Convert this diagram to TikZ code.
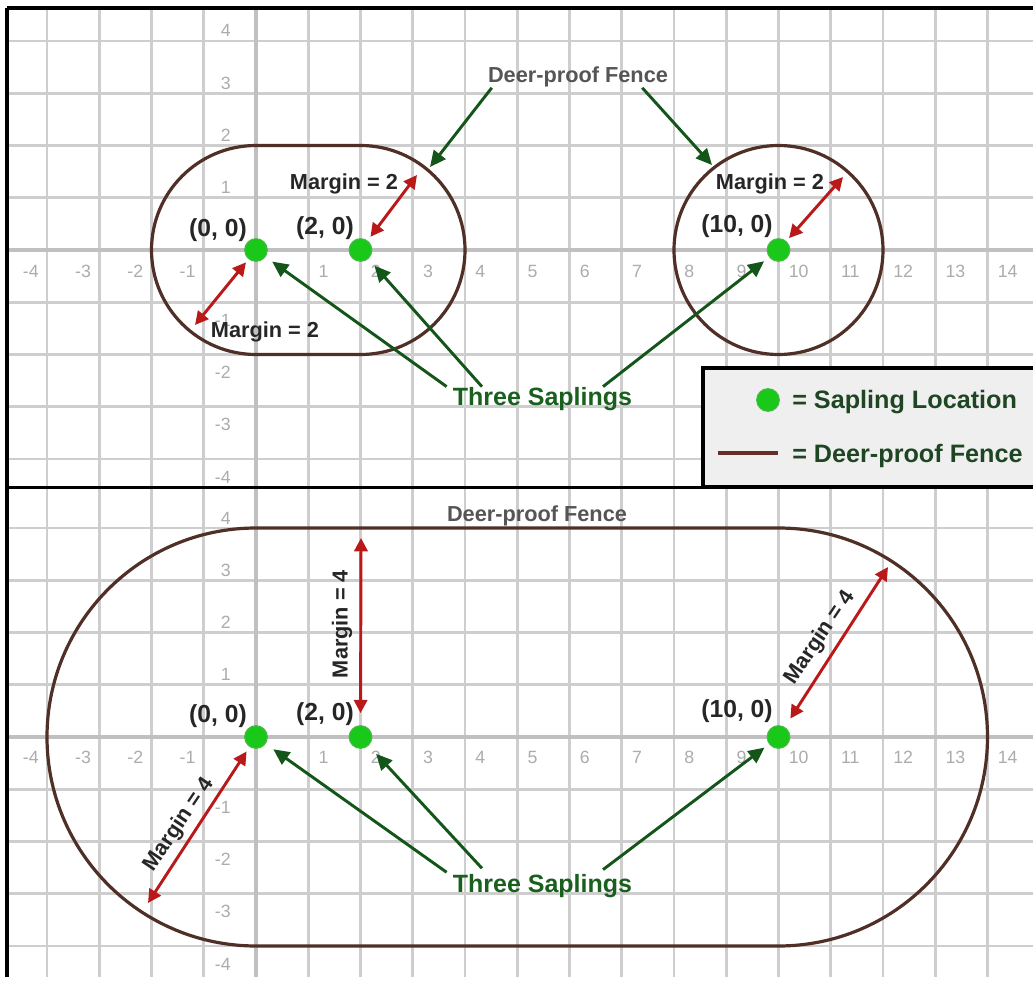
\documentclass[tikz,border=0pt]{standalone}
\usepackage{fontspec}
\setmainfont{Liberation Sans}
\usetikzlibrary{arrows.meta}
\definecolor{gridc}{RGB}{206,206,206}
\definecolor{axisc}{RGB}{192,192,192}
\definecolor{glabel}{RGB}{172,172,172}
\definecolor{fencec}{RGB}{80,48,38}
\definecolor{legfence}{RGB}{105,45,40}
\definecolor{sapfill}{RGB}{25,200,25}
\definecolor{sapedge}{RGB}{70,185,70}
\definecolor{garrow}{RGB}{20,85,25}
\definecolor{rarrow}{RGB}{185,25,25}
\definecolor{tgreen}{RGB}{25,95,30}
\definecolor{lgreen}{RGB}{30,70,35}
\definecolor{deergray}{RGB}{85,85,85}
\definecolor{legbg}{RGB}{239,239,239}
\tikzset{
 gridln/.style={draw=gridc, line width=2pt},
 axisln/.style={draw=axisc, line width=3.5pt},
 glab/.style={text=glabel, font=\fontsize{13.3}{14}\selectfont, inner sep=0pt},
 fence/.style={draw=fencec, line width=2.4pt},
 sapling/.style={circle, fill=sapfill, draw=sapedge, line width=0.8pt, minimum size=17pt, inner sep=0pt},
 coordlab/.style={font=\bfseries\fontsize{18.5}{20}\selectfont, text=black!85, inner sep=0pt, anchor=base},
 marginlab/.style={font=\bfseries\fontsize{16.3}{18}\selectfont, text=black!85, inner sep=0pt},
 deerlab/.style={font=\bfseries\fontsize{16.3}{18}\selectfont, text=deergray, inner sep=0pt, anchor=base},
 threelab/.style={font=\bfseries\fontsize{18.75}{20}\selectfont, text=tgreen, inner sep=0pt, anchor=base},
 leglab/.style={font=\bfseries\fontsize{18.9}{20}\selectfont, text=lgreen, inner sep=0pt, anchor=base west},
 garr/.style={draw=garrow, line width=2.2pt, -{Triangle[length=12pt,width=11pt]}},
 rarr/.style={draw=rarrow, line width=2.2pt, {Triangle[length=10pt,width=10pt]}-{Triangle[length=10pt,width=10pt]}},
 border/.style={draw=black, line width=2.4pt},
}
\begin{document}
\begin{tikzpicture}[x=0.75pt, y=-0.75pt]
\useasboundingbox (0,0) rectangle (1033,981);
\fill[white] (0,0) rectangle (1033,981);
\clip (0,0) rectangle (1033,981);

% ---------- top panel grid ----------
\begin{scope}
 \clip (7,8) rectangle (1045,487);
 \foreach \k in {-4,...,14} { \draw[gridln] ({256+52.25*\k},0) -- ({256+52.25*\k},500); }
 \foreach \k in {-4,...,4} { \draw[gridln] (0,{250-52.25*\k}) -- (1045,{250-52.25*\k}); }
 \draw[axisln] (256,0) -- (256,500);
 \draw[axisln] (0,250) -- (1045,250);
\end{scope}
\foreach \k in {1,...,14} { \node[glab, anchor=base west] (tx\k) at ({256+52.25*\k+10},277) {\k}; }
\foreach \k in {1,...,4} { \node[glab, anchor=base east] (txm\k) at ({256-52.25*\k-8},277) {-\k}; }
\foreach \k in {1,...,4} { \node[glab, anchor=base east] (ty\k) at (231,{250-52.25*\k-4}) {\k}; }
\foreach \k in {1,...,4} { \node[glab, anchor=base east] (tym\k) at (231,{250+52.25*\k+24}) {-\k}; }

% ---------- bottom panel grid ----------
\begin{scope}
 \clip (7,488) rectangle (1045,976);
 \foreach \k in {-4,...,14} { \draw[gridln] ({256+52.25*\k},480) -- ({256+52.25*\k},990); }
 \foreach \k in {-4,...,4} { \draw[gridln] (0,{737-52.25*\k}) -- (1045,{737-52.25*\k}); }
 \draw[axisln] (256,480) -- (256,990);
 \draw[axisln] (0,737) -- (1045,737);
\end{scope}
\foreach \k in {1,...,14} { \node[glab, anchor=base west] (bx\k) at ({256+52.25*\k+10},763) {\k}; }
\foreach \k in {1,...,4} { \node[glab, anchor=base east] (bxm\k) at ({256-52.25*\k-8},763) {-\k}; }
\foreach \k in {1,...,4} { \node[glab, anchor=base east] (by\k) at (231,{737-52.25*\k-4}) {\k}; }
\foreach \k in {1,...,4} { \node[glab, anchor=base east] (bym\k) at (231,{737+52.25*\k+24}) {-\k}; }

% ---------- fences and saplings, top ----------
\begin{scope}[shift={(256,250)}, x=39.1875pt, y=39.1875pt]
 \draw[fence] (0,2) -- (2,2) arc[start angle=90, end angle=-90, radius=2] -- (0,-2) arc[start angle=270, end angle=90, radius=2] -- cycle;
 \draw[fence] (10,0) circle[radius=2];
 \node[sapling] (s1) at (0,0) {};
 \node[sapling] (s2) at (2,0) {};
 \node[sapling] (s3) at (10,0) {};
\end{scope}

% ---------- fences and saplings, bottom ----------
\begin{scope}[shift={(256,737)}, x=39.1875pt, y=39.1875pt]
 \draw[fence] (0,4) -- (10,4) arc[start angle=90, end angle=-90, radius=4] -- (0,-4) arc[start angle=270, end angle=90, radius=4] -- cycle;
 \node[sapling] (b1) at (0,0) {};
 \node[sapling] (b2) at (2,0) {};
 \node[sapling] (b3) at (10,0) {};
\end{scope}

% ---------- legend ----------
\draw[draw=black, line width=2.4pt, fill=legbg] (703,368) rectangle (1045,487);
\node[sapling] (legdot) at (768,400) {};
\draw[draw=legfence, line width=2.8pt] (718,453) -- (778,453);
\node[leglab] (legA) at (792,408) {= Sapling Location};
\node[leglab] (legB) at (792,462) {= Deer-proof Fence};

% ---------- borders ----------
\draw[border] (7,8) -- (1045,8);
\draw[border] (7,8) -- (7,977);
\draw[border] (7,487.5) -- (1045,487.5);

% ---------- coordinates for free ends ----------
\coordinate (fA) at (430,167);
\coordinate (fB) at (712,165);
\coordinate (mA) at (195,325);
\coordinate (mB) at (417,175);
\coordinate (mC) at (843,177);
\coordinate (nA) at (148,903);
\coordinate (nB) at (361,538);
\coordinate (nC) at (888,567);

% ---------- red margin arrows ----------
\draw[rarr, shorten <=3pt] (s1) -- (mA);
\draw[rarr, shorten <=3.5pt] (s2) -- (mB);
\draw[rarr, shorten <=3pt] (s3) -- (mC);
\draw[rarr, shorten <=4pt] (b1) -- (nA);
\draw[rarr, shorten <=9pt] (b2) -- (nB);
\draw[rarr, shorten <=7.5pt] (b3) -- (nC);

% ---------- texts ----------
\node[coordlab] (lA1) at (218,236) {(0, 0)};
\node[coordlab] (lA2) at (325,234) {(2, 0)};
\node[coordlab] (lA3) at (737,233) {(10, 0)};
\node[coordlab] (lB1) at (218,722) {(0, 0)};
\node[coordlab] (lB2) at (325,720) {(2, 0)};
\node[coordlab] (lB3) at (737,717) {(10, 0)};

\node[marginlab, anchor=base] (mgA) at (344,190) {Margin = 2};
\node[marginlab, anchor=base] (mgB) at (265,337) {Margin = 2};
\node[marginlab, anchor=base] (mgC) at (770,190) {Margin = 2};
\node[marginlab, rotate=90] (mgD) at (342,624) {Margin = 4};
\node[marginlab, rotate=56] (mgE) at (820,638) {Margin = 4};
\node[marginlab, rotate=56] (mgF) at (179,825) {Margin = 4};

\node[deerlab] (dA) at (578,83) {Deer-proof Fence};
\node[deerlab] (dB) at (537,521) {Deer-proof Fence};
\node[threelab] (tA) at (542.5,405) {Three Saplings};
\node[threelab] (tB) at (542.5,892) {Three Saplings};

% ---------- green pointer arrows ----------
\draw[garr] ([xshift=3pt]dA.south west) -- (fA);
\draw[garr] ([xshift=-19.5pt]dA.south east) -- (fB);
\draw[garr, shorten >=6pt] ([xshift=-4.5pt]tA.north west) -- (s1);
\draw[garr, shorten >=6.8pt] ([xshift=22pt]tA.north west) -- (s2);
\draw[garr, shorten >=4.8pt] ([xshift=-22pt]tA.north east) -- (s3);
\draw[garr, shorten >=7pt] ([xshift=-4.5pt,yshift=1pt]tB.north west) -- (b1);
\draw[garr, shorten >=8.3pt] ([xshift=22pt,yshift=4pt]tB.north west) -- (b2);
\draw[garr, shorten >=4.3pt] ([xshift=-22pt,yshift=3pt]tB.north east) -- (b3);
\end{tikzpicture}
\end{document}
